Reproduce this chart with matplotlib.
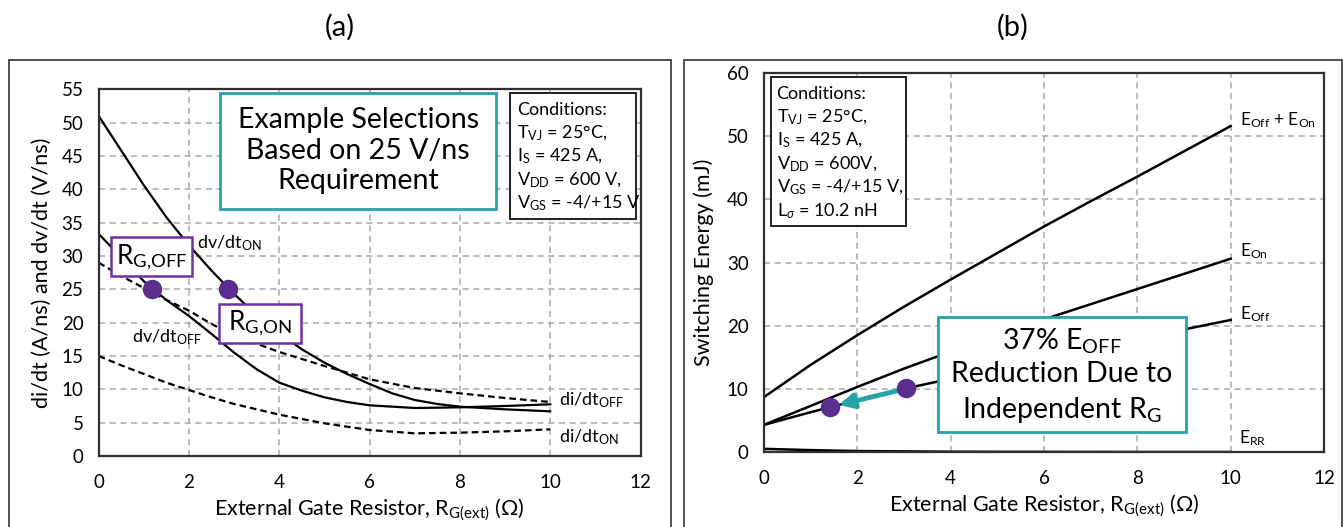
import matplotlib
matplotlib.use("Agg")
import matplotlib.pyplot as plt
from matplotlib.patches import Rectangle

plt.rcParams['font.family'] = ['Lato', 'DejaVu Sans']
plt.rcParams['mathtext.fontset'] = 'custom'
plt.rcParams['mathtext.rm'] = 'Lato'
plt.rcParams['mathtext.it'] = 'Lato:italic'
plt.rcParams['mathtext.bf'] = 'Lato:bold'

# ---------------- data: panel (a) ----------------
rg_dvdt_on = [0, 0.5, 1, 1.5, 2, 2.5, 3, 3.5, 4, 4.5, 5, 5.5, 6, 6.5, 7, 7.5, 8, 9, 10]
dvdt_on = [51, 45.8, 40.6, 35.8, 31.6, 27.8, 24.3, 21.1, 18.4, 16.0, 14.0, 12.3, 10.8, 9.4, 8.4, 7.8, 7.4, 7.0, 6.7]

rg_dvdt_off = [0, 0.5, 1, 1.5, 2, 2.5, 3, 3.5, 4, 4.5, 5, 5.5, 6, 7, 8, 9, 10]
dvdt_off = [33.3, 29.8, 26.2, 23.4, 21.0, 18.3, 15.5, 13.0, 11.0, 9.8, 8.8, 8.1, 7.6, 7.2, 7.3, 7.5, 7.75]

rg_didt = [0, 0.5, 1, 1.5, 2, 2.5, 3, 4, 5, 6, 7, 8, 9, 10]
didt_off = [29.0, 27.0, 25.2, 23.4, 21.8, 19.8, 18.1, 15.6, 13.5, 11.5, 10.2, 9.4, 8.7, 8.1]
didt_on = [15.0, 13.6, 12.3, 11.0, 9.9, 8.8, 7.8, 6.2, 4.9, 3.9, 3.4, 3.5, 3.7, 4.0]

sel_rg = [1.17, 2.86]
sel_val = [25, 25]

# ---------------- data: panel (b) ----------------
rg_e = [0, 1, 2, 3, 4, 5, 6, 7, 8, 9, 10]
e_sum = [8.7, 13.8, 18.5, 23.0, 27.3, 31.5, 35.7, 39.7, 43.6, 47.6, 51.6]
e_on = [4.3, 7.3, 10.3, 13.2, 15.9, 18.5, 21.0, 23.4, 25.8, 28.2, 30.6]
e_off = [4.3, 6.3, 8.2, 10.0, 11.6, 13.1, 14.6, 16.2, 17.8, 19.4, 20.9]
e_rr = [0.5, 0.3, 0.15, 0.1, 0.05, 0.03, 0.02, 0.01, 0.0, 0.0, 0.0]

eoff_rg = [1.41, 3.05]
eoff_val = [7.1, 10.1]

xticks = [0, 2, 4, 6, 8, 10, 12]
yticks_a = list(range(0, 56, 5))
yticks_b = list(range(0, 61, 10))

TEAL = '#27a2a9'
PURPLE_EDGE = '#7030a0'
PURPLE_DOT = '#5b2d8e'
GRID = '#a8a8a8'

fig = plt.figure(figsize=(13.43, 5.27), dpi=100)

# outer frames
fig.add_artist(Rectangle((8.7/1343, -0.05), (670.7-8.7)/1343, 1-60/527+0.05,
                         transform=fig.transFigure, fill=False, ec='#505050', lw=1.4))
fig.add_artist(Rectangle((684/1343, -0.05), (1341.5-684)/1343, 1-60/527+0.05,
                         transform=fig.transFigure, fill=False, ec='#505050', lw=1.4))
fig.text(340/1343, 1-27/527, '(a)', ha='center', va='center', fontsize=21)
fig.text(1013/1343, 1-27/527, '(b)', ha='center', va='center', fontsize=21)

ax1 = fig.add_axes([98.7/1343, 1-456/527, 541.8/1343, 366.7/527])
ax2 = fig.add_axes([764/1343, 1-452/527, 560/1343, 379/527])

xlabel = r'External Gate Resistor, R$_{\mathrm{G(ext)}}$ ($\Omega$)'

for ax, yt in ((ax1, yticks_a), (ax2, yticks_b)):
    ax.set_xlim(0, 12)
    ax.set_xticks(xticks)
    ax.set_ylim(yt[0], yt[-1])
    ax.set_yticks(yt)
    ax.tick_params(length=0, labelsize=13.5)
    ax.tick_params(axis='y', pad=11)
    ax.tick_params(axis='x', pad=13)
    ax.grid(True, color=GRID, ls=(0, (4, 3)), lw=1.1)
    ax.set_axisbelow(True)
    for s in ax.spines.values():
        s.set_linewidth(1.6)
        s.set_color('#303030')
    ax.set_xlabel(xlabel, fontsize=15.5, labelpad=4)

# ---------- panel (a) ----------
ax1.set_ylabel('di/dt (A/ns) and dv/dt (V/ns)', fontsize=15.5, labelpad=7)
ax1.plot(rg_dvdt_on, dvdt_on, color='black', lw=1.6)
ax1.plot(rg_dvdt_off, dvdt_off, color='black', lw=1.6)
ax1.plot(rg_didt, didt_off, color='black', lw=1.6, ls=(0, (3, 1.8)))
ax1.plot(rg_didt, didt_on, color='black', lw=1.6, ls=(0, (3, 1.8)))
ax1.plot(sel_rg, sel_val, 'o', color=PURPLE_DOT, ms=13, zorder=6)

ax1.text(2.17, 31.9, r'dv/dt$_{\mathrm{ON}}$', fontsize=13, va='center')
ax1.text(0.73, 17.8, r'dv/dt$_{\mathrm{OFF}}$', fontsize=13, va='center')
ax1.text(10.2, 8.4, r'di/dt$_{\mathrm{OFF}}$', fontsize=13, va='center')
ax1.text(10.2, 2.9, r'di/dt$_{\mathrm{ON}}$', fontsize=13, va='center')

ax1.add_patch(Rectangle((0.27, 27.0), 1.79, 5.8, fc='white', ec=PURPLE_EDGE, lw=1.8, zorder=5))
ax1.text(1.165, 29.9, r'R$_{\mathrm{G{,}OFF}}$', fontsize=19, ha='center', va='center', zorder=7)
ax1.add_patch(Rectangle((2.67, 17.0), 1.81, 5.75, fc='white', ec=PURPLE_EDGE, lw=1.8, zorder=5))
ax1.text(3.575, 19.9, r'R$_{\mathrm{G{,}ON}}$', fontsize=19, ha='center', va='center', zorder=7)

ax1.add_patch(Rectangle((2.69, 37.1), 6.11, 17.3, fc='white', ec=TEAL, lw=2.0, zorder=5))
ax1.text(5.745, 45.8, 'Example Selections\nBased on 25 V/ns\nRequirement', fontsize=20.5,
         ha='center', va='center', linespacing=1.22, zorder=7)

ax1.add_patch(Rectangle((9.11, 35.55), 2.78, 18.85, fc='white', ec='#202020', lw=1.4, zorder=5))
cond_a = ['Conditions:', r'T$_{\mathrm{VJ}}$ = 25°C,', r'I$_{\mathrm{S}}$ = 425 A,',
          r'V$_{\mathrm{DD}}$ = 600 V,', r'V$_{\mathrm{GS}}$ = -4/+15 V']
for i, line in enumerate(cond_a):
    ax1.text(9.26, 51.9 - 3.5 * i, line, fontsize=13, va='center', zorder=7)

# ---------- panel (b) ----------
ax2.set_ylabel('Switching Energy (mJ)', fontsize=15.5, labelpad=9)
ax2.plot(rg_e, e_sum, color='black', lw=1.8)
ax2.plot(rg_e, e_on, color='black', lw=1.8)
ax2.plot(rg_e, e_off, color='black', lw=1.8)
ax2.plot(rg_e, e_rr, color='black', lw=1.8)

ax2.text(10.2, 52.5, r'E$_{\mathrm{Off}}$ + E$_{\mathrm{On}}$', fontsize=12.5, va='center')
ax2.text(10.2, 31.8, r'E$_{\mathrm{On}}$', fontsize=12.5, va='center')
ax2.text(10.2, 21.8, r'E$_{\mathrm{Off}}$', fontsize=12.5, va='center')
ax2.text(10.17, 2.2, r'E$_{\mathrm{RR}}$', fontsize=12.5, va='center')

ax2.add_patch(Rectangle((0.14, 35.7), 2.9, 23.6, fc='white', ec='#202020', lw=1.4, zorder=5))
cond_b = ['Conditions:', r'T$_{\mathrm{VJ}}$ = 25°C,', r'I$_{\mathrm{S}}$ = 425 A,',
          r'V$_{\mathrm{DD}}$ = 600V,', r'V$_{\mathrm{GS}}$ = -4/+15 V,', r'L$_{\sigma}$ = 10.2 nH']
for i, line in enumerate(cond_b):
    ax2.text(0.27, 56.75 - 3.73 * i, line, fontsize=13, va='center', zorder=7)

ax2.add_patch(Rectangle((3.72, 3.15), 5.32, 18.15, fc='white', ec=TEAL, lw=2.0, zorder=5))
box_lines = [r'37% E$_{\mathrm{OFF}}$', 'Reduction Due to', r'Independent R$_{\mathrm{G}}$']
for line, yy in zip(box_lines, [17.6, 12.35, 6.57]):
    ax2.text(6.38, yy, line, fontsize=20.5, ha='center', va='center', zorder=7)

ax2.annotate('', xy=(1.6, 7.45), xytext=(3.0, 9.95),
             arrowprops=dict(arrowstyle='-|>', color=TEAL, lw=3.5, mutation_scale=22,
                             shrinkA=0, shrinkB=0), zorder=5)
ax2.plot(eoff_rg, eoff_val, 'o', color=PURPLE_DOT, ms=13, zorder=6)

fig.savefig('out.png', dpi=100)
